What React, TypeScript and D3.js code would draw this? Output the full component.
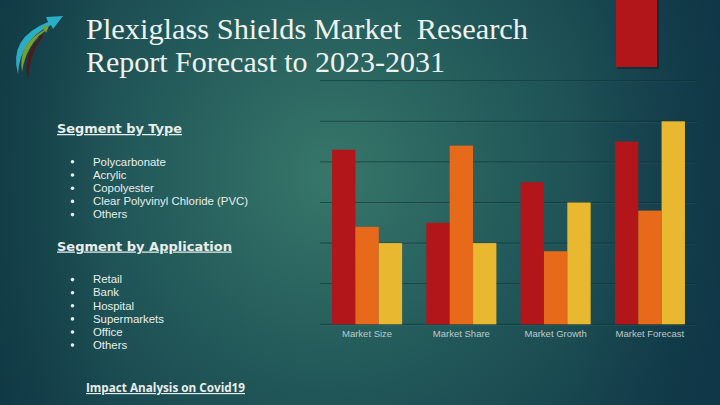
import * as d3 from "d3";

// chart data
const categories = ["Market Size", "Market Share", "Market Growth", "Market Forecast"];
const seriesNames = ["Series 1", "Series 2", "Series 3"];
const series1 = [4.3, 2.5, 3.5, 4.5];
const series2 = [2.4, 4.4, 1.8, 2.8];
const series3 = [2, 2, 3, 5];
const yTicks = [0, 1, 2, 3, 4, 5, 6];

const typeSegments = ["Polycarbonate", "Acrylic", "Copolyester", "Clear Polyvinyl Chloride (PVC)", "Others"];
const appSegments = ["Retail", "Bank", "Hospital", "Supermarkets", "Office", "Others"];

const W = 720;
const H = 405;
const colors = ["#b3161a", "#e7691a", "#e8b830"];

const plot = { left: 320, right: 697, top: 80.7, bottom: 324.3 };

const App = () => {
  const values = [series1, series2, series3];

  const x = d3.scaleBand<string>().domain(categories).range([plot.left, plot.right]).paddingInner(0.257).paddingOuter(0.128);
  const xs = d3.scaleBand<string>().domain(seriesNames).range([0, x.bandwidth()]).padding(0);
  const y = d3.scaleLinear().domain([0, 6]).range([plot.bottom, plot.top]);

  const sans = "'Liberation Sans', Arial, sans-serif";
  const body = "'DejaVu Sans', sans-serif";

  return (
    <svg width={W} height={H} style={{ position: "absolute", left: 0, top: 0, display: "block" }}>
      <defs>
        <radialGradient id="bg" cx="330" cy="175" r="420" gradientUnits="userSpaceOnUse">
          <stop offset="0" stopColor="#37776a" />
          <stop offset="0.45" stopColor="#235a5a" />
          <stop offset="1" stopColor="#113a48" />
        </radialGradient>
        <linearGradient id="edge" x1="0" y1="0" x2="1" y2="0">
          <stop offset="0" stopColor="#0e3640" stopOpacity="0.55" />
          <stop offset="0.15" stopColor="#0e3640" stopOpacity="0" />
          <stop offset="0.8" stopColor="#0e3346" stopOpacity="0" />
          <stop offset="1" stopColor="#0e3346" stopOpacity="0.5" />
        </linearGradient>
      </defs>
      <rect width={W} height={H} fill="url(#bg)" />
      <rect width={W} height={H} fill="url(#edge)" />

      {/* decorative bar top right */}
      <rect x={617} y={-2} width={42} height={71} fill="#0a1f25" opacity={0.5} />
      <rect x={616} y={-2} width={41} height={69} fill="#b3161a" />

      {/* logo swoosh */}
      <g>
        <path d="M18,74 Q8,38 48,22 L46,17 L63,16 L53,29 L51,25 Q20,40 18,74 Z" fill="#2aaec6" />
        <path d="M22,72 Q17,45 44,30 L42,27 L49,26 L46,33 L45,31 Q26,45 22,72 Z" fill="#7d9f2a" />
        <path d="M28,80 Q22,55 40,38 L38,36 L43,35 L42,40 L41,39 Q29,55 28,80 Z" fill="#4e1a1c" />
      </g>

      {/* title */}
      <g fill="#eef2ef" fontFamily="'Liberation Serif', 'DejaVu Serif', serif" fontSize={30}>
        <text x={86} y={39} textLength={442} lengthAdjust="spacingAndGlyphs" style={{ whiteSpace: "pre" }}>
          {"Plexiglass Shields Market  Research"}
        </text>
        <text x={86} y={71.5} textLength={359} lengthAdjust="spacingAndGlyphs">
          Report Forecast to 2023-2031
        </text>
      </g>

      {/* gridlines */}
      {yTicks.map((t) => (
        <g key={t}>
          <line x1={plot.left} x2={plot.right} y1={y(t) + 1} y2={y(t) + 1} stroke="#4a7d7a" strokeOpacity={0.2} />
          <line x1={plot.left} x2={plot.right} y1={y(t)} y2={y(t)} stroke="#0d2e33" strokeOpacity={0.6} />
        </g>
      ))}

      {/* bars */}
      {categories.map((c, ci) => (
        <g key={c} transform={`translate(${x(c)},0)`}>
          {values.map((vals, si) => (
            <rect
              key={si}
              x={xs(seriesNames[si])}
              y={y(vals[ci])}
              width={xs.bandwidth()}
              height={y(0) - y(vals[ci])}
              fill={colors[si]}
            />
          ))}
        </g>
      ))}

      {/* category labels */}
      {categories.map((c) => (
        <text
          key={c}
          x={(x(c) ?? 0) + x.bandwidth() / 2}
          y={337}
          textAnchor="middle"
          fontFamily={sans}
          fontSize={9.5}
          fill="#bfcac9"
        >
          {c}
        </text>
      ))}

      {/* left text block */}
      <g fontFamily={body} fill="#e8eeec">
        <text x={57} y={133} fontSize={12.5} fontWeight="bold" textDecoration="underline" textLength={125} lengthAdjust="spacingAndGlyphs">
          Segment by Type
        </text>
        {typeSegments.map((s, i) => (
          <g key={s + i}>
            <circle cx={72.5} cy={161.8 + i * 13.2} r={1.8} />
            <text x={93} y={165.5 + i * 13.2} fontSize={11.4} fontFamily={sans}>
              {s}
            </text>
          </g>
        ))}
        <text x={57} y={250.5} fontSize={12.5} fontWeight="bold" textDecoration="underline" textLength={175} lengthAdjust="spacingAndGlyphs">
          Segment by Application
        </text>
        {appSegments.map((s, i) => (
          <g key={s + i}>
            <circle cx={72.5} cy={279.6 + i * 13.1} r={1.8} />
            <text x={93} y={283.3 + i * 13.1} fontSize={11.4} fontFamily={sans}>
              {s}
            </text>
          </g>
        ))}
        <text x={86} y={392} fontSize={11.5} fontWeight="bold" fontFamily={"'Open Sans', sans-serif"} textDecoration="underline" textLength={159} lengthAdjust="spacingAndGlyphs">
          Impact Analysis on Covid19
        </text>
      </g>
    </svg>
  );
};

export default App;
